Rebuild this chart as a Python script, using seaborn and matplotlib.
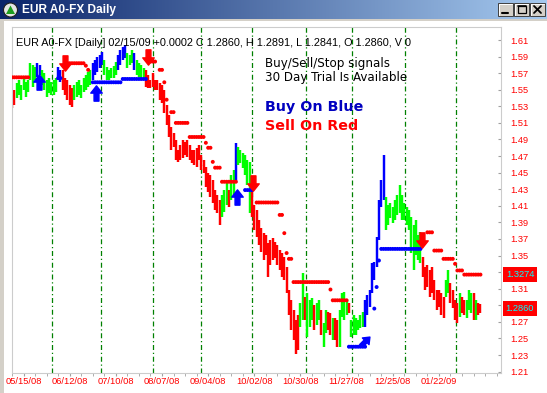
import numpy as np
import pandas as pd
import matplotlib
matplotlib.use("Agg")
import matplotlib.pyplot as plt
import seaborn as sns
from matplotlib.path import Path
from matplotlib.markers import MarkerStyle
from matplotlib.transforms import Affine2D, blended_transform_factory
from matplotlib.patches import Rectangle, Circle, Polygon
from matplotlib.colors import LinearSegmentedColormap

# ---------------- data ----------------
first_bar = -5  # bar index of first bar (0 = 05/15/08)
bar_high = [
    1.544, 1.550, 1.558, 1.562, 1.556, 1.565, 1.559, 1.562, 1.582, 1.580,
    1.577, 1.582, 1.580, 1.574, 1.570, 1.562, 1.564, 1.559, 1.562, 1.564,
    1.577, 1.574, 1.574, 1.564, 1.562, 1.556, 1.552, 1.556, 1.559, 1.562,
    1.556, 1.564, 1.568, 1.571, 1.574, 1.582, 1.586, 1.590, 1.592, 1.596,
    1.586, 1.577, 1.574, 1.576, 1.579, 1.583, 1.592, 1.598, 1.602, 1.604,
    1.594, 1.592, 1.598, 1.594, 1.586, 1.582, 1.580, 1.576, 1.574, 1.568,
    1.562, 1.570, 1.562, 1.562, 1.558, 1.556, 1.550, 1.532, 1.520, 1.505,
    1.498, 1.489, 1.477, 1.483, 1.489, 1.487, 1.489, 1.483, 1.477, 1.477,
    1.480, 1.483, 1.471, 1.465, 1.457, 1.450, 1.447, 1.441, 1.429, 1.423,
    1.417, 1.423, 1.429, 1.437, 1.429, 1.447, 1.453, 1.486, 1.481, 1.477,
    1.474, 1.471, 1.465, 1.463, 1.429, 1.411, 1.405, 1.393, 1.383, 1.377,
    1.375, 1.365, 1.369, 1.371, 1.366, 1.363, 1.357, 1.353, 1.348, 1.336,
    1.308, 1.296, 1.284, 1.272, 1.278, 1.293, 1.329, 1.300, 1.305, 1.296,
    1.299, 1.290, 1.293, 1.296, 1.284, 1.269, 1.284, 1.282, 1.281, 1.275,
    1.275, 1.272, 1.284, 1.305, 1.306, 1.296, 1.293, 1.272, 1.278, 1.275,
    1.272, 1.278, 1.282, 1.296, 1.302, 1.308, 1.341, 1.342, 1.372, 1.417,
    1.441, 1.471, 1.421, 1.411, 1.413, 1.409, 1.417, 1.423, 1.435, 1.423,
    1.413, 1.409, 1.405, 1.397, 1.387, 1.393, 1.375, 1.378, 1.348, 1.336,
    1.339, 1.333, 1.336, 1.321, 1.308, 1.308, 1.305, 1.300, 1.321, 1.333,
    1.317, 1.308, 1.296, 1.293, 1.305, 1.300, 1.296, 1.296, 1.308, 1.305,
    1.305, 1.296, 1.293, 1.291]
bar_low = [
    1.528, 1.532, 1.540, 1.544, 1.538, 1.550, 1.541, 1.547, 1.562, 1.553,
    1.562, 1.565, 1.568, 1.556, 1.550, 1.541, 1.546, 1.544, 1.544, 1.547,
    1.562, 1.559, 1.550, 1.544, 1.538, 1.532, 1.529, 1.538, 1.541, 1.544,
    1.540, 1.547, 1.550, 1.553, 1.556, 1.562, 1.568, 1.571, 1.576, 1.580,
    1.568, 1.562, 1.562, 1.564, 1.564, 1.568, 1.574, 1.580, 1.586, 1.588,
    1.576, 1.580, 1.582, 1.574, 1.568, 1.565, 1.562, 1.564, 1.553, 1.552,
    1.552, 1.553, 1.550, 1.550, 1.538, 1.534, 1.522, 1.508, 1.493, 1.477,
    1.481, 1.465, 1.463, 1.465, 1.468, 1.471, 1.469, 1.465, 1.462, 1.459,
    1.457, 1.465, 1.453, 1.450, 1.433, 1.427, 1.421, 1.413, 1.405, 1.401,
    1.387, 1.397, 1.403, 1.411, 1.409, 1.417, 1.423, 1.437, 1.459, 1.462,
    1.456, 1.447, 1.435, 1.401, 1.397, 1.381, 1.372, 1.363, 1.354, 1.345,
    1.351, 1.324, 1.339, 1.345, 1.347, 1.339, 1.333, 1.324, 1.321, 1.305,
    1.278, 1.260, 1.248, 1.231, 1.236, 1.264, 1.272, 1.272, 1.252, 1.264,
    1.272, 1.260, 1.266, 1.272, 1.254, 1.240, 1.257, 1.260, 1.254, 1.248,
    1.248, 1.240, 1.240, 1.276, 1.272, 1.278, 1.281, 1.252, 1.254, 1.254,
    1.260, 1.263, 1.264, 1.264, 1.278, 1.288, 1.305, 1.320, 1.336, 1.369,
    1.409, 1.417, 1.381, 1.387, 1.395, 1.389, 1.393, 1.399, 1.401, 1.393,
    1.393, 1.387, 1.381, 1.353, 1.333, 1.351, 1.345, 1.341, 1.324, 1.308,
    1.312, 1.300, 1.305, 1.296, 1.284, 1.288, 1.278, 1.275, 1.300, 1.305,
    1.293, 1.287, 1.272, 1.269, 1.276, 1.281, 1.278, 1.275, 1.284, 1.281,
    1.272, 1.272, 1.278, 1.281]
bar_signal = ("RRGGGGGGGG" "GBBGGGGGGG" "BBRRRRRGGG" "GGGGGBBBBB" "GGGGGGBBBB"
              "GGGBGGGGRR" "RRRRRRRRRR" "RRRRRRRRRR" "RRRRRRRRRR" "RGGGRGGBGG"
              "GGGGRRRRRR" "RRRRRRRRRR" "RRRRRGGRGG" "GRGGRGGRRG" "RRGGGGRGGG"
              "GGGBBBBBBB" "BBGGGGGGGG" "GGGGGGGGRR" "RRRRRRRRGG" "RRRRGRRGGG"
              "RGRR")

# stop levels: (first bar, last bar, level)
sell_stop_start = [-5, 19, 27, 28, 55, 59, 61, 62, 64, 66, 72, 79, 80, 82, 83, 86,
                   101, 111, 113, 114, 115, 117, 133, 134, 175, 178, 182, 187, 188, 191]
sell_stop_end = [2, 26, 27, 28, 57, 60, 61, 62, 65, 71, 78, 79, 81, 82, 85, 92,
                 110, 112, 113, 114, 116, 132, 133, 140, 177, 181, 186, 187, 190, 198]
sell_stop_level = [1.565, 1.582, 1.579, 1.574, 1.584, 1.574, 1.559, 1.538, 1.523, 1.510,
                   1.493, 1.486, 1.480, 1.463, 1.456, 1.439, 1.414, 1.399, 1.377, 1.353,
                   1.346, 1.318, 1.309, 1.296, 1.378, 1.356, 1.346, 1.340, 1.332, 1.327]
buy_stop_start = [15, 30, 43, 96, 141, 152, 153, 154, 155]
buy_stop_end = [16, 42, 53, 99, 148, 152, 153, 154, 172]
buy_stop_level = [1.564, 1.559, 1.563, 1.429, 1.240, 1.286, 1.312, 1.344, 1.358]

buy_arrow_bar = [6.5, 31.2, 92.5]
buy_arrow_price = [1.559, 1.546, 1.421]
buy_arrow_last_bar = [148.0]
buy_arrow_last_price = [1.247]
sell_arrow_bar = [18.0, 54.0, 99.5, 172.7]
sell_arrow_price = [1.582, 1.590, 1.437, 1.369]

month_start_bar = [12.2, 33.6, 56.1, 76.9, 98.9, 122.4, 142.4, 165.3, 187.4]
date_labels = ['05/15/08', '06/12/08', '07/10/08', '08/07/08', '09/04/08',
               '10/02/08', '10/30/08', '11/27/08', '12/25/08', '01/22/09']
date_bar = [0, 20, 40, 60, 80, 100, 120, 140, 160, 180]
price_ticks = [1.21, 1.23, 1.25, 1.27, 1.29, 1.31, 1.33, 1.35, 1.37, 1.39, 1.41,
               1.43, 1.45, 1.47, 1.49, 1.51, 1.53, 1.55, 1.57, 1.59, 1.61]
badge_values = [1.3274, 1.2860]

header = "EUR A0-FX [Daily] 02/15/09 +0.0002 C 1.2860, H 1.2891, L 1.2841, O 1.2860, V 0"

# ---------------- style ----------------
sns.set_style("white")
plt.rcParams['font.family'] = ['Liberation Sans', 'DejaVu Sans']

W, H = 547, 393
fig = plt.figure(figsize=(W / 100, H / 100), dpi=100)
fig.patch.set_facecolor('white')

# window chrome (pixel coordinates)
bg = fig.add_axes([0, 0, 1, 1])
bg.set_xlim(0, W)
bg.set_ylim(H, 0)
bg.axis('off')
bg.add_patch(Rectangle((0, 0), W, H, color='#D4D0C8', lw=0))
bg.add_patch(Rectangle((4, 21), W - 4, H - 21, color='white', lw=0))
cmap = LinearSegmentedColormap.from_list('tb', ['#0A246A', '#A6CAF0'])
bg.imshow(np.linspace(0, 1, 256)[None, :], cmap=cmap, aspect='auto',
          extent=(0, W, 19.5, 0), zorder=1)
bg.add_patch(Circle((10.5, 10), 7, fc='#E4E4E4', ec='#202020', lw=0.8, zorder=2))
bg.add_patch(Polygon([(6, 14), (15, 14), (10.5, 5.5)], closed=True,
                     fc='#1E9E1E', ec='none', zorder=3))
bg.text(22, 10.5, 'EUR A0-FX Daily', color='white', fontweight='bold',
        fontsize=8.6, va='center', ha='left', zorder=3)
for k, x0 in enumerate([498, 514, 530]):
    y0, w, h = 3, 15, 13
    bg.add_patch(Rectangle((x0, y0), w, h, fc='#D4D0C8', ec='#404040', lw=0.7, zorder=3))
    bg.plot([x0 + 0.7, x0 + 0.7, x0 + w - 1], [y0 + h - 1, y0 + 0.7, y0 + 0.7],
            color='white', lw=0.7, zorder=4)
    if k == 0:
        bg.plot([x0 + 4, x0 + 10], [y0 + 9.5, y0 + 9.5], color='black', lw=1.5, zorder=5)
    elif k == 1:
        bg.add_patch(Rectangle((x0 + 3.5, y0 + 2.5), 8, 7.5, fc='none', ec='black',
                               lw=0.9, zorder=5))
        bg.plot([x0 + 3.5, x0 + 11.5], [y0 + 3.2, y0 + 3.2], color='black', lw=1.2, zorder=5)
    else:
        bg.plot([x0 + 4, x0 + 11], [y0 + 3, y0 + 10], color='black', lw=1.3, zorder=5)
        bg.plot([x0 + 4, x0 + 11], [y0 + 10, y0 + 3], color='black', lw=1.3, zorder=5)

# ---------------- main chart ----------------
left, right, top, bottom = 12, 501, 27, 373
ax = fig.add_axes([left / W, 1 - bottom / H, (right - left) / W, (bottom - top) / H])
ax.set_facecolor('none')
ax.set_xlim(-4.98, 206.9)
ax.set_ylim(1.2083, 1.6257)
for s in ax.spines.values():
    s.set_color('#CCCCCC')
    s.set_linewidth(0.8)

ax.vlines(month_start_bar, 1.2083, 1.6257, colors='#008000', lw=0.9,
          linestyles=(0, (4, 2.2, 1, 2.2)), zorder=1)

bars = pd.DataFrame({'bar': np.arange(first_bar, first_bar + len(bar_high)),
                     'high': bar_high, 'low': bar_low, 'signal': list(bar_signal)})
col = {'R': '#FF0000', 'G': '#00FF00', 'B': '#0000FF'}
ax.vlines(bars['bar'], bars['low'], bars['high'],
          colors=[col[c] for c in bars['signal']], lw=1.75, zorder=2)

rows = []
for a, b, lv in zip(sell_stop_start, sell_stop_end, sell_stop_level):
    for i in range(a, b + 1):
        rows.append((i, lv, 'sell'))
for a, b, lv in zip(buy_stop_start, buy_stop_end, buy_stop_level):
    for i in range(a, b + 1):
        rows.append((i, lv, 'buy'))
stops = pd.DataFrame(rows, columns=['bar', 'level', 'side'])
sns.scatterplot(data=stops, x='bar', y='level', hue='side',
                palette={'sell': '#FF0000', 'buy': '#0000FF'},
                s=8, linewidth=0, legend=False, ax=ax, zorder=3)

up_verts = [(0, 1), (0.75, 0.05), (0.32, 0.05), (0.32, -1), (-0.32, -1),
            (-0.32, 0.05), (-0.75, 0.05), (0, 1)]
codes = [Path.MOVETO] + [Path.LINETO] * 6 + [Path.CLOSEPOLY]
up_path = Path(up_verts, codes)
down_path = Path([(x, -y) for x, y in up_verts], codes)
ax.plot(buy_arrow_bar, buy_arrow_price, ls='none', marker=up_path, ms=11,
        color='#0000FF', mec='#0000FF', zorder=4)
ax.plot(buy_arrow_last_bar, buy_arrow_last_price, ls='none',
        marker=MarkerStyle(up_path, transform=Affine2D().rotate_deg(-45)), ms=9,
        color='#0000FF', mec='#0000FF', zorder=4)
ax.plot(sell_arrow_bar, sell_arrow_price, ls='none', marker=down_path, ms=11,
        color='#FF0000', mec='#FF0000', zorder=4)

# axes ticks
ax.set_xticks(date_bar)
ax.set_xticklabels(date_labels)
ax.set_xticks(np.arange(-5, 206, 5), minor=True)
ax.tick_params(axis='x', which='both', bottom=True, direction='out', length=1.8,
               color='#A0A0A0', labelcolor='#FF0000', labelsize=6.7, pad=1.4)
ax.yaxis.tick_right()
ax.set_yticks(price_ticks)
ax.set_yticklabels(['' if abs(v - 1.33) < 1e-9 or abs(v - 1.29) < 1e-9 else f'{v:.2f}'
                    for v in price_ticks])
ax.tick_params(axis='y', which='both', right=True, left=False, direction='in',
               length=2.5, color='#A0A0A0', labelcolor='#FF0000', labelsize=6.7, pad=13.3)
for t in ax.get_yticklabels():
    t.set_horizontalalignment('center')
ax.set_xlabel('')
ax.set_ylabel('')

trans = blended_transform_factory(ax.transAxes, ax.transData)
for v in badge_values:
    ax.text((520 - left) / (right - left), v, f'{v:.4f}', transform=trans,
            ha='center', va='center', color='#00FFFF', fontsize=6.7, zorder=6,
            clip_on=False,
            bbox=dict(boxstyle='square,pad=0.3', fc='#FF0000', ec='none'))

# texts
fig.text(15.5 / W, 1 - 42.5 / H, header, fontsize=7.8, color='black',
         ha='left', va='center')
fig.text(265 / W, 1 - 63.5 / H, 'Buy/Sell/Stop signals', fontsize=8.6,
         family=['DejaVu Sans'], ha='left', va='center', color='black')
fig.text(265 / W, 1 - 78 / H, '30 Day Trial Is Available', fontsize=8.6,
         family=['DejaVu Sans'], ha='left', va='center', color='black')
fig.text(265 / W, 1 - 107.5 / H, 'Buy On Blue', fontsize=10.3, fontweight='bold',
         family=['DejaVu Sans'], ha='left', va='center', color='#0000C0')
fig.text(265 / W, 1 - 125.5 / H, 'Sell On Red', fontsize=10.3, fontweight='bold',
         family=['DejaVu Sans'], ha='left', va='center', color='#FF0000')

fig.savefig('out.png', dpi=100, facecolor=fig.get_facecolor())
